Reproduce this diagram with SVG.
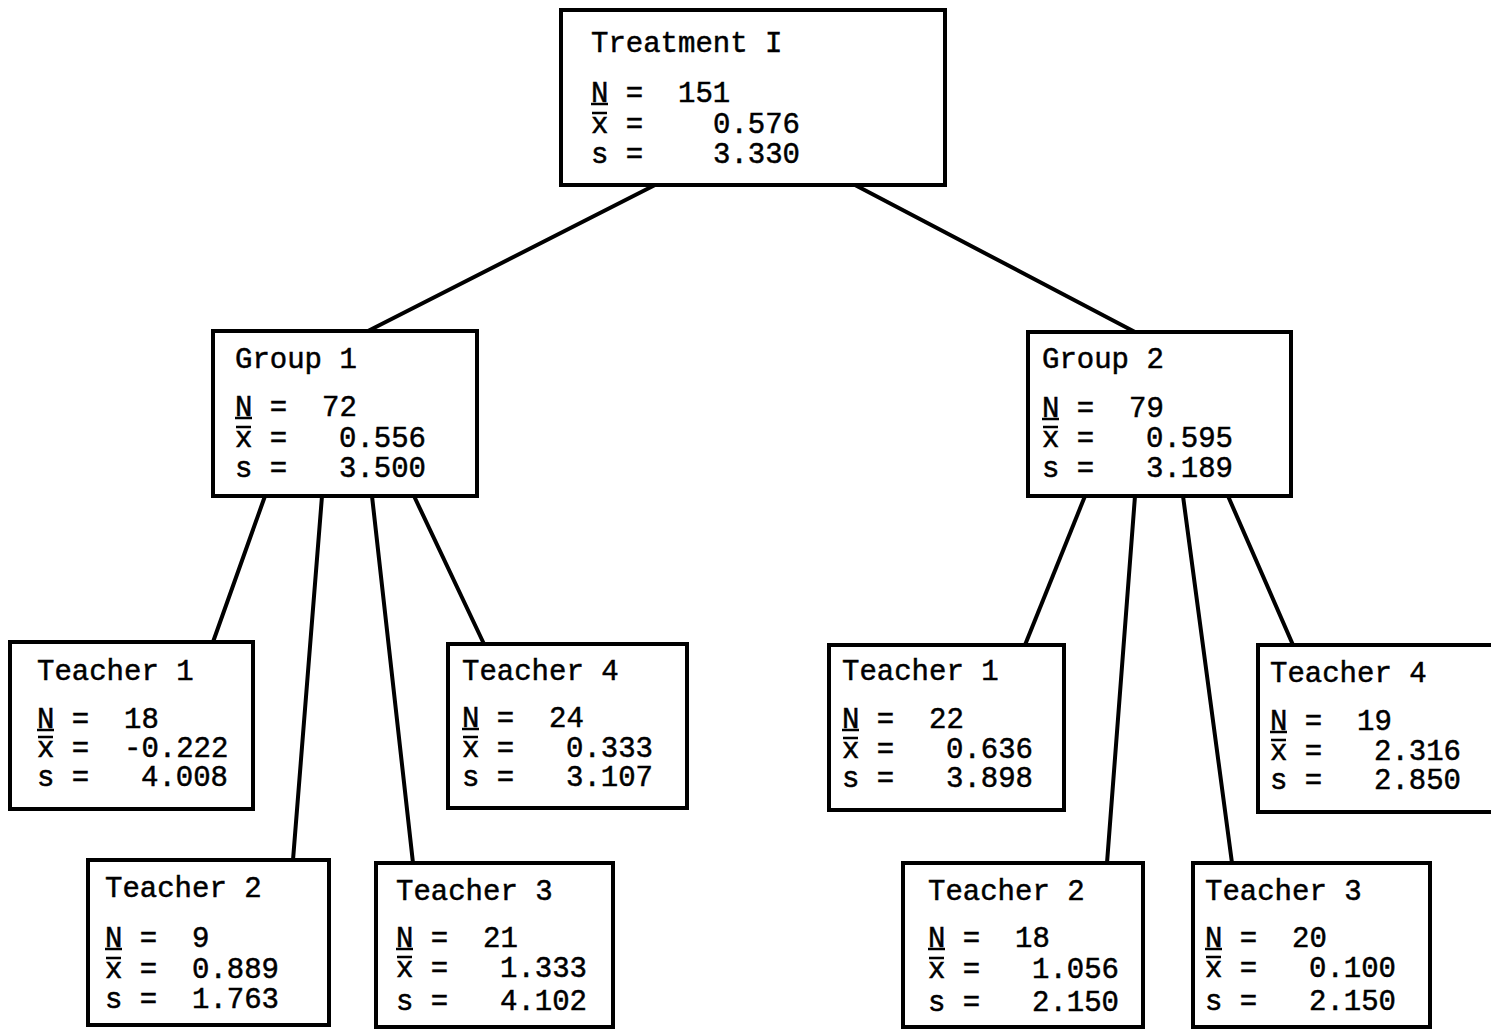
<svg xmlns="http://www.w3.org/2000/svg" width="1491" height="1030" viewBox="0 0 1491 1030">
  <style>
    .box { fill: #fff; stroke: #000; stroke-width: 4; }
    .edge { stroke: #000; stroke-width: 4; stroke-linecap: round; fill: none; }
    text { font-family: "Liberation Mono", "Courier New", monospace; font-size: 29px; fill: #000; stroke: #000; stroke-width: 0.5; }
    .mark { stroke: #000; stroke-width: 2.5; }
  </style>

  <rect width="1491" height="1030" fill="#fff"/>

  <!-- connectors -->
  <g id="connectors">
    <line class="edge" x1="655" y1="185" x2="368" y2="331"/>
    <line class="edge" x1="855" y1="185" x2="1135" y2="332"/>
    <line class="edge" x1="265" y1="496" x2="213" y2="642"/>
    <line class="edge" x1="322" y1="496" x2="293" y2="860"/>
    <line class="edge" x1="372" y1="496" x2="413" y2="863"/>
    <line class="edge" x1="414" y1="496" x2="484" y2="644"/>
    <line class="edge" x1="1085" y1="496" x2="1025" y2="645"/>
    <line class="edge" x1="1135" y1="496" x2="1107" y2="863"/>
    <line class="edge" x1="1183" y1="496" x2="1232" y2="863"/>
    <line class="edge" x1="1228" y1="496" x2="1293" y2="645"/>
  </g>

  <!-- Treatment I -->
  <g id="treatment">
    <rect class="box" x="561" y="10" width="384" height="175"/>
    <text x="591" y="52">Treatment I</text>
    <text x="591" y="102">N =</text><text x="678" y="102">151</text>
    <text x="591" y="133">x =</text><text x="713" y="133">0.576</text>
    <text x="591" y="163">s =</text><text x="713" y="163">3.330</text>
    <line class="mark" x1="591" y1="104" x2="608" y2="104"/>
    <line class="mark" x1="592" y1="113" x2="607" y2="113"/>
  </g>

  <!-- Group 1 -->
  <g id="group1">
    <rect class="box" x="213" y="331" width="264" height="165"/>
    <text x="235" y="368">Group 1</text>
    <text x="235" y="416">N =</text><text x="322" y="416">72</text>
    <text x="235" y="447">x =</text><text x="339" y="447">0.556</text>
    <text x="235" y="477">s =</text><text x="339" y="477">3.500</text>
    <line class="mark" x1="235" y1="418" x2="252" y2="418"/>
    <line class="mark" x1="236" y1="427" x2="251" y2="427"/>
  </g>

  <!-- Group 2 -->
  <g id="group2">
    <rect class="box" x="1028" y="332" width="263" height="164"/>
    <text x="1042" y="368">Group 2</text>
    <text x="1042" y="417">N =</text><text x="1129" y="417">79</text>
    <text x="1042" y="447">x =</text><text x="1146" y="447">0.595</text>
    <text x="1042" y="477">s =</text><text x="1146" y="477">3.189</text>
    <line class="mark" x1="1042" y1="419" x2="1059" y2="419"/>
    <line class="mark" x1="1043" y1="427" x2="1058" y2="427"/>
  </g>

  <!-- Group 1, Teacher 1 -->
  <g id="g1-teacher1">
    <rect class="box" x="10" y="642" width="243" height="167"/>
    <text x="37" y="680">Teacher 1</text>
    <text x="37" y="728">N =</text><text x="124" y="728">18</text>
    <text x="37" y="757">x =</text><text x="124" y="757">-0.222</text>
    <text x="37" y="786">s =</text><text x="141" y="786">4.008</text>
    <line class="mark" x1="37" y1="730" x2="54" y2="730"/>
    <line class="mark" x1="38" y1="737" x2="53" y2="737"/>
  </g>

  <!-- Group 1, Teacher 4 -->
  <g id="g1-teacher4">
    <rect class="box" x="448" y="644" width="239" height="164"/>
    <text x="462" y="680">Teacher 4</text>
    <text x="462" y="727">N =</text><text x="549" y="727">24</text>
    <text x="462" y="757">x =</text><text x="566" y="757">0.333</text>
    <text x="462" y="786">s =</text><text x="566" y="786">3.107</text>
    <line class="mark" x1="462" y1="729" x2="479" y2="729"/>
    <line class="mark" x1="463" y1="737" x2="478" y2="737"/>
  </g>

  <!-- Group 1, Teacher 2 -->
  <g id="g1-teacher2">
    <rect class="box" x="88" y="860" width="241" height="165"/>
    <text x="105" y="897">Teacher 2</text>
    <text x="105" y="947">N =</text><text x="192" y="947">9</text>
    <text x="105" y="978">x =</text><text x="192" y="978">0.889</text>
    <text x="105" y="1008">s =</text><text x="192" y="1008">1.763</text>
    <line class="mark" x1="105" y1="949" x2="122" y2="949"/>
    <line class="mark" x1="106" y1="958" x2="121" y2="958"/>
  </g>

  <!-- Group 1, Teacher 3 -->
  <g id="g1-teacher3">
    <rect class="box" x="376" y="863" width="237" height="164"/>
    <text x="396" y="900">Teacher 3</text>
    <text x="396" y="947">N =</text><text x="483" y="947">21</text>
    <text x="396" y="977">x =</text><text x="500" y="977">1.333</text>
    <text x="396" y="1010">s =</text><text x="500" y="1010">4.102</text>
    <line class="mark" x1="396" y1="949" x2="413" y2="949"/>
    <line class="mark" x1="397" y1="957" x2="412" y2="957"/>
  </g>

  <!-- Group 2, Teacher 1 -->
  <g id="g2-teacher1">
    <rect class="box" x="829" y="645" width="235" height="165"/>
    <text x="842" y="680">Teacher 1</text>
    <text x="842" y="728">N =</text><text x="929" y="728">22</text>
    <text x="842" y="758">x =</text><text x="946" y="758">0.636</text>
    <text x="842" y="787">s =</text><text x="946" y="787">3.898</text>
    <line class="mark" x1="842" y1="730" x2="859" y2="730"/>
    <line class="mark" x1="843" y1="738" x2="858" y2="738"/>
  </g>

  <!-- Group 2, Teacher 4 (box runs off the right edge) -->
  <g id="g2-teacher4">
    <rect class="box" x="1258" y="645" width="240" height="167"/>
    <text x="1270" y="682">Teacher 4</text>
    <text x="1270" y="730">N =</text><text x="1357" y="730">19</text>
    <text x="1270" y="760">x =</text><text x="1374" y="760">2.316</text>
    <text x="1270" y="789">s =</text><text x="1374" y="789">2.850</text>
    <line class="mark" x1="1270" y1="732" x2="1287" y2="732"/>
    <line class="mark" x1="1271" y1="740" x2="1286" y2="740"/>
  </g>

  <!-- Group 2, Teacher 2 -->
  <g id="g2-teacher2">
    <rect class="box" x="903" y="863" width="240" height="164"/>
    <text x="928" y="900">Teacher 2</text>
    <text x="928" y="947">N =</text><text x="1015" y="947">18</text>
    <text x="928" y="978">x =</text><text x="1032" y="978">1.056</text>
    <text x="928" y="1011">s =</text><text x="1032" y="1011">2.150</text>
    <line class="mark" x1="928" y1="949" x2="945" y2="949"/>
    <line class="mark" x1="929" y1="958" x2="944" y2="958"/>
  </g>

  <!-- Group 2, Teacher 3 -->
  <g id="g2-teacher3">
    <rect class="box" x="1193" y="863" width="237" height="164"/>
    <text x="1205" y="900">Teacher 3</text>
    <text x="1205" y="947">N =</text><text x="1292" y="947">20</text>
    <text x="1205" y="977">x =</text><text x="1309" y="977">0.100</text>
    <text x="1205" y="1010">s =</text><text x="1309" y="1010">2.150</text>
    <line class="mark" x1="1205" y1="949" x2="1222" y2="949"/>
    <line class="mark" x1="1206" y1="957" x2="1221" y2="957"/>
  </g>
</svg>
